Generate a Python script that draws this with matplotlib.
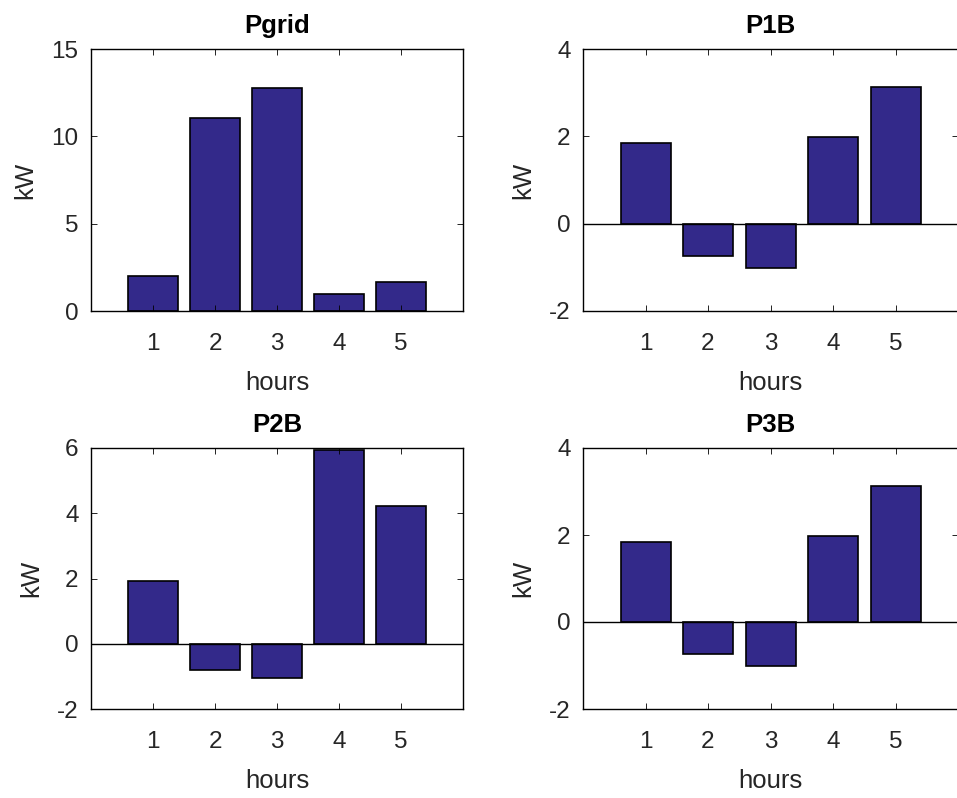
import matplotlib
matplotlib.use("Agg")
import matplotlib.pyplot as plt
import numpy as np

plt.rcParams['font.family'] = ['Liberation Sans', 'DejaVu Sans']
plt.rcParams['axes.unicode_minus'] = False

hours = [1, 2, 3, 4, 5]

# values (kW)
p_grid = [2.0, 11.05, 12.75, 0.97, 1.64]
p1b = [1.84, -0.74, -1.01, 1.98, 3.12]
p2b = [1.91, -0.81, -1.04, 5.93, 4.23]
p3b = [1.84, -0.74, -1.02, 1.98, 3.13]

titles = ['Pgrid', 'P1B', 'P2B', 'P3B']
series = [p_grid, p1b, p2b, p3b]
ylims = [(0, 15), (-2, 4), (-2, 6), (-2, 4)]
yticks = [[0, 5, 10, 15], [-2, 0, 2, 4], [-2, 0, 2, 4, 6], [-2, 0, 2, 4]]

bar_color = '#33298a'
text_color = '#262626'

fig = plt.figure(figsize=(9.57, 7.98), dpi=100)

W, H = 957, 798
# axes boxes in pixels: left, top, right, bottom
boxes = [(91, 49, 463, 311), (583, 49, 958, 311),
         (91, 448, 463, 709), (583, 448, 958, 709)]

for box, title, vals, ylim, yt in zip(boxes, titles, series, ylims, yticks):
    l, t, r, b = box
    ax = fig.add_axes([l / W, 1 - b / H, (r - l) / W, (b - t) / H])
    ax.bar(hours, vals, width=0.8, color=bar_color, edgecolor='black', linewidth=1.2)
    if ylim[0] < 0:
        ax.axhline(0, color='black', linewidth=1.0)
    ax.set_xlim(0, 6)
    ax.set_ylim(*ylim)
    ax.set_xticks(hours)
    ax.set_yticks(yt)
    ax.tick_params(direction='in', top=True, right=True, length=4, width=0.6,
                   labelsize=17.5, labelcolor=text_color)
    ax.tick_params(axis='x', pad=16)
    ax.tick_params(axis='y', pad=9)
    ax.set_title(title, fontsize=18.5, fontweight='bold', pad=11.5)
    ax.set_xlabel('hours', fontsize=18.5, color=text_color, labelpad=11)
    ax.set_ylabel('kW', fontsize=18.5, color=text_color, labelpad=10)
    for s in ax.spines.values():
        s.set_linewidth(1.0)

fig.savefig('out.png', dpi=100)
